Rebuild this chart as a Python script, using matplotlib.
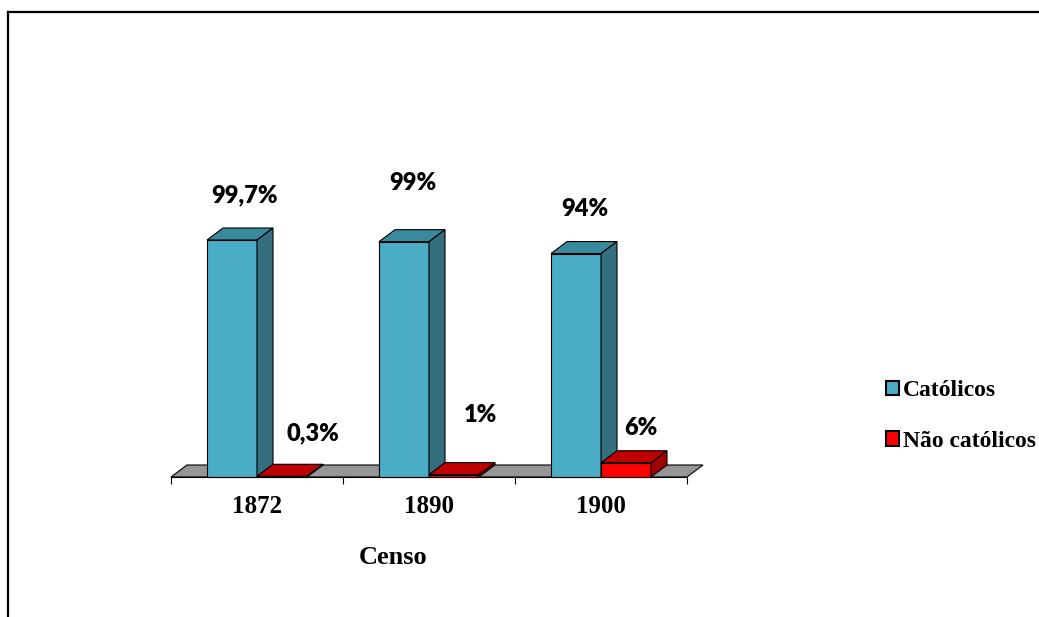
import matplotlib
matplotlib.use("Agg")
import matplotlib.pyplot as plt
from matplotlib.patches import Polygon, Rectangle
from matplotlib.lines import Line2D

# dados do censo (percentual da população)
censos = ["1872", "1890", "1900"]
catolicos = [99.7, 99.0, 94.0]
nao_catolicos = [0.3, 1.0, 6.0]
rotulos_cat = ["99,7%", "99%", "94%"]
rotulos_nao = ["0,3%", "1%", "6%"]

# cores: frente, topo, lateral
cores_cat = ("#4BACC6", "#3A8A9E", "#336F7D")
cores_nao = ("#FF0000", "#C00000", "#A00000")

W, H = 1039, 617
px_por_pct = 2.377  # altura em pixels de 1%
cat_px = 172        # largura de cada categoria em pixels
dx = 16 / cat_px    # profundidade do efeito 3D
dy = 12 / px_por_pct
largura = 50 / cat_px
folga = 36 / cat_px

fig = plt.figure(figsize=(W / 100, H / 100), dpi=100)
ax = fig.add_axes([171 / W, 1 - 477 / H, 516 / W, 465 / H])
ax.set_xlim(0, 3)
ax.set_ylim(0, 465 / px_por_pct)
ax.patch.set_visible(False)
for lado in ["top", "right", "left"]:
    ax.spines[lado].set_visible(False)
ax.spines["bottom"].set_linewidth(0.8)
ax.spines["bottom"].set_zorder(5)
ax.set_yticks([])

# marcas entre categorias e rótulos no centro
ax.set_xticks([0, 1, 2, 3])
ax.set_xticklabels([])
ax.tick_params(axis="x", which="major", direction="out", length=5, width=0.8)
ax.set_xticks([0.5, 1.5, 2.5], minor=True)
ax.set_xticklabels(censos, minor=True, fontfamily="Liberation Serif",
                   fontweight="bold", fontsize=18)
ax.tick_params(axis="x", which="minor", length=0, pad=13)

ax.set_xlabel("Censo", fontfamily="Liberation Serif", fontweight="bold",
              fontsize=19, va="center")
ax.xaxis.set_label_coords((393 - 171) / 516, -(558 - 477) / 465)


def barra_3d(x0, altura, cores):
    frente, topo, lateral = cores
    x1 = x0 + largura
    kw = dict(ec="black", lw=0.8, joinstyle="miter", clip_on=False)
    ax.add_patch(Polygon([(x0, 0), (x1, 0), (x1, altura), (x0, altura)],
                         fc=frente, **kw))
    ax.add_patch(Polygon([(x0, altura), (x1, altura), (x1 + dx, altura + dy),
                          (x0 + dx, altura + dy)], fc=topo, **kw))
    ax.add_patch(Polygon([(x1, 0), (x1 + dx, dy), (x1 + dx, altura + dy),
                          (x1, altura)], fc=lateral, **kw))


# piso cinza
ax.add_patch(Polygon([(0, 0), (3, 0), (3 + dx, dy), (dx, dy)],
                     fc="#969696", ec="black", lw=0.8, clip_on=False))

# deslocamentos dos rótulos (pixels)
desl_cat = [(13, 45), (9, 59), (9, 45)]
desl_nao = [(31, 43), (26, 60), (15, 35)]
fonte_rot = dict(fontfamily="Lato", fontweight="heavy", fontsize=17,
                 ha="center", va="center")

for i in range(len(censos)):
    x_cat = i + folga
    x_nao = x_cat + largura
    barra_3d(x_cat, catolicos[i], cores_cat)
    barra_3d(x_nao, nao_catolicos[i], cores_nao)

    ox, oy = desl_cat[i]
    ax.text(x_cat + largura / 2 + ox / cat_px,
            catolicos[i] + oy / px_por_pct, rotulos_cat[i], **fonte_rot)
    ox, oy = desl_nao[i]
    ax.text(x_nao + largura / 2 + ox / cat_px,
            nao_catolicos[i] + oy / px_por_pct, rotulos_nao[i], **fonte_rot)

# legenda
alcas = [Rectangle((0, 0), 1, 1, fc=cores_cat[0], ec="black", lw=1.5),
         Rectangle((0, 0), 1, 1, fc=cores_nao[0], ec="black", lw=1.5)]
fig.legend(alcas, ["Católicos", "Não católicos"], loc="center left",
           bbox_to_anchor=(886 / W, 1 - 416 / H), frameon=False,
           prop=dict(family="Liberation Serif", weight="bold", size=17),
           handlelength=0.55, handleheight=0.55, handletextpad=0.15,
           labelspacing=1.25, borderpad=0, borderaxespad=0)

# moldura (apenas esquerda e topo visíveis)
fig.add_artist(Line2D([8 / W, 8 / W], [0, 1 - 12 / H], color="black", lw=1.6))
fig.add_artist(Line2D([8 / W, 1], [1 - 12 / H, 1 - 12 / H], color="black", lw=1.6))

fig.savefig("out.png", dpi=100)
